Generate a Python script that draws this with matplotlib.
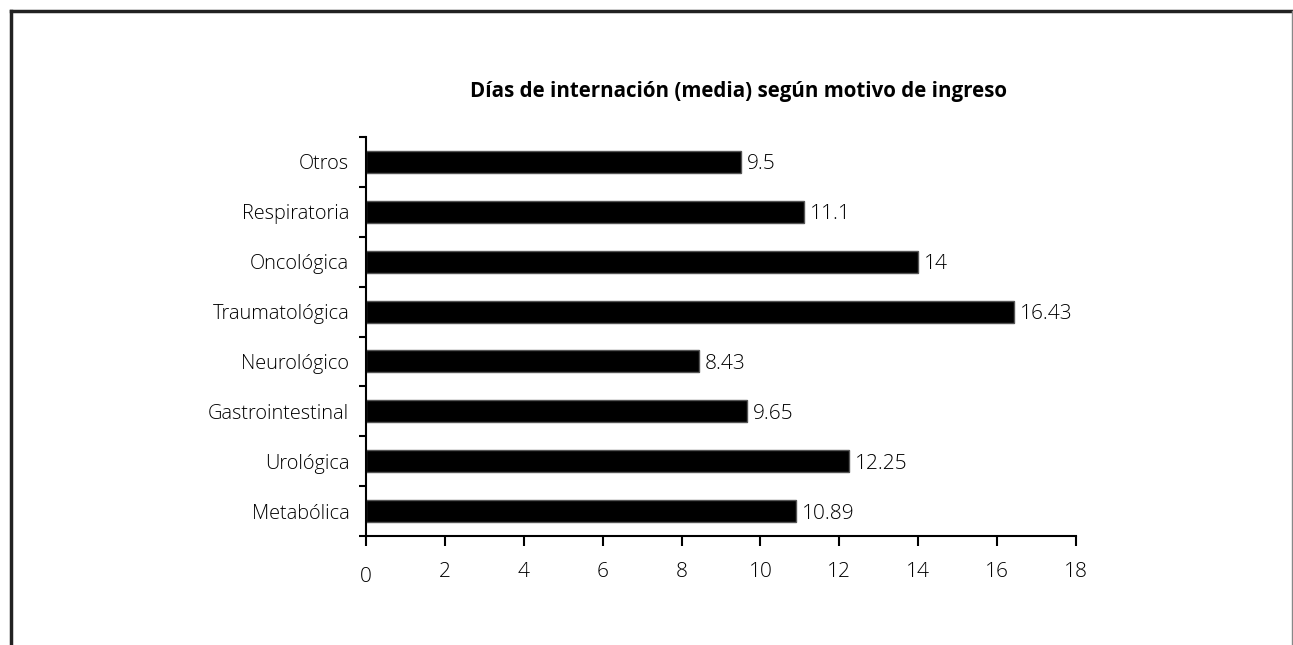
import numpy as np
import matplotlib
matplotlib.use("Agg")
import matplotlib.pyplot as plt
from matplotlib.lines import Line2D

plt.rcParams['font.family'] = ['Open Sans', 'DejaVu Sans']

# data, bottom to top
categories = ['Metabólica', 'Urológica', 'Gastrointestinal', 'Neurológico',
              'Traumatológica', 'Oncológica', 'Respiratoria', 'Otros']
values = [10.89, 12.25, 9.65, 8.43, 16.43, 14, 11.1, 9.5]
value_labels = ['10.89', '12.25', '9.65', '8.43', '16.43', '14', '11.1', '9.5']
x_ticks = [0, 2, 4, 6, 8, 10, 12, 14, 16, 18]
title = 'Días de internación (media) según motivo de ingreso'

fig = plt.figure(figsize=(12.93, 6.45), dpi=100)
ax = fig.add_axes([366 / 1293, 109 / 645, 710 / 1293, 399 / 645])

y = np.arange(len(categories))
ax.barh(y, values, height=0.44, color='black', edgecolor='#555555', linewidth=1)

for yi, v, lab in zip(y, values, value_labels):
    ax.text(v + 0.15, yi - 0.05, lab, va='center', ha='left', fontsize=15,
            fontweight='light')

ax.set_xlim(0, 18)
ax.set_ylim(-0.5, len(categories) - 0.5)
ax.set_xticks(x_ticks)
ax.set_xticklabels([str(t) for t in x_ticks], fontsize=15, fontweight='light')
ax.get_xticklabels()[0].set_y(-0.012)
ax.tick_params(axis='x', direction='out', length=7, width=1.5, pad=12)

# category boundaries as major ticks, names centred as minor ticks
ax.set_yticks(np.arange(-0.5, len(categories), 1.0))
ax.set_yticklabels([])
ax.set_yticks(y, minor=True)
ax.set_yticklabels(categories, minor=True, fontsize=14.3, fontweight='light')
ax.tick_params(axis='y', which='major', direction='out', length=5, width=1.5)
ax.tick_params(axis='y', which='minor', length=0, pad=12)

for s in ['top', 'right']:
    ax.spines[s].set_visible(False)
for s in ['left', 'bottom']:
    ax.spines[s].set_linewidth(1.5)

fig.text(739 / 1293, 1 - 91 / 645, title, ha='center', va='center',
         fontsize=14.8, fontweight='bold')

# outer frame
fig.add_artist(Line2D([11 / 1293, 11 / 1293], [0, 1 - 11 / 645],
                      transform=fig.transFigure, color='#222222', lw=2.5))
fig.add_artist(Line2D([11 / 1293, 1292 / 1293], [1 - 11 / 645, 1 - 11 / 645],
                      transform=fig.transFigure, color='#222222', lw=2.5))
fig.add_artist(Line2D([1291.5 / 1293, 1291.5 / 1293], [0, 1 - 11 / 645],
                      transform=fig.transFigure, color='#888888', lw=1))

fig.savefig('out.png', dpi=100)
